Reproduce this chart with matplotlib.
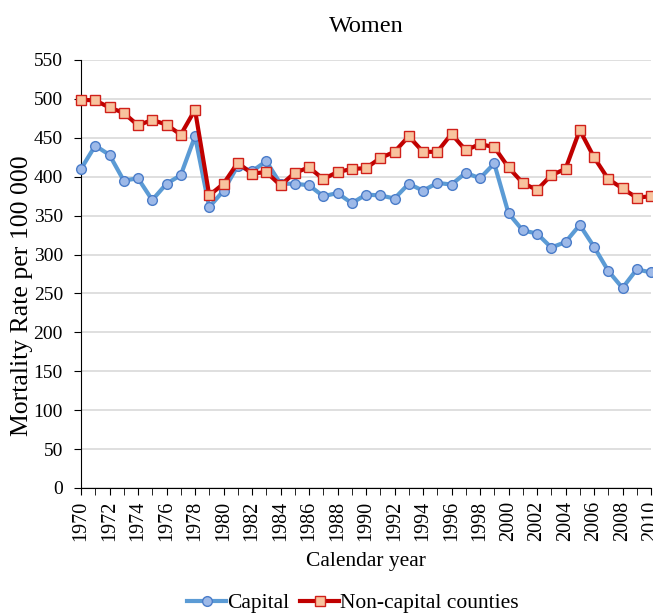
import matplotlib.pyplot as plt
from matplotlib.ticker import MultipleLocator

plt.rcParams['font.family'] = ['Liberation Serif', 'DejaVu Serif']

years = list(range(1970, 2011))
capital = [410, 440, 428, 395, 398, 370, 391, 402, 452, 361,
           382, 414, 407, 420, 391, 391, 389, 375, 379, 366,
           377, 376, 372, 391, 382, 392, 390, 405, 398, 417,
           353, 331, 327, 309, 316, 338, 310, 279, 257, 281, 277]
non_capital = [499, 498, 489, 482, 466, 473, 467, 454, 486, 376,
               391, 418, 404, 406, 389, 405, 412, 397, 406, 410,
               411, 424, 432, 452, 432, 432, 455, 434, 442, 438,
               412, 392, 383, 402, 410, 460, 425, 397, 385, 373, 375]

fig = plt.figure(figsize=(6.53, 6.14), dpi=100)
ax = fig.add_axes([81 / 653, 1 - 488 / 614, (651 - 81) / 653, 428 / 614])

ax.plot(years, capital, color='#5B9BD5', lw=3, marker='o', ms=7,
        mfc='#9DB9E8', mec='#4A7CC9', mew=1, label='Capital', clip_on=False, zorder=3)
ax.plot(years, non_capital, color='#C00000', lw=3, marker='s', ms=7,
        mfc='#F8C39E', mec='#D0201A', mew=1, label='Non-capital counties', clip_on=False, zorder=4)

ax.set_xlim(1970, 2010)
ax.set_ylim(0, 550)
ax.yaxis.set_major_locator(MultipleLocator(50))
ax.set_xticks(range(1970, 2011, 2))
ax.set_xticks(range(1970, 2011), minor=True)
ax.tick_params(axis='x', which='both', rotation=90, direction='out', length=5, labelsize=14.5, pad=4)
ax.tick_params(axis='y', direction='out', length=5, labelsize=14, pad=8)
ax.grid(axis='y', color='#D9D9D9', lw=1.2)
ax.set_axisbelow(True)
for s in ['top', 'right']:
    ax.spines[s].set_visible(False)

ax.set_title('Women', fontsize=17.5, pad=20)
ax.set_xlabel('Calendar year', fontsize=15.5, labelpad=8)
ax.set_ylabel('Mortality Rate per 100 000', fontsize=18.5)
ax.yaxis.set_label_coords(-0.085, 0.45)

fig.legend(loc='center', bbox_to_anchor=(353 / 653, 1 - 603 / 614), ncol=2, frameon=False,
           fontsize=15.5, handlelength=1.8, columnspacing=0.5, handletextpad=0.05)

fig.savefig('out.png', dpi=100)
